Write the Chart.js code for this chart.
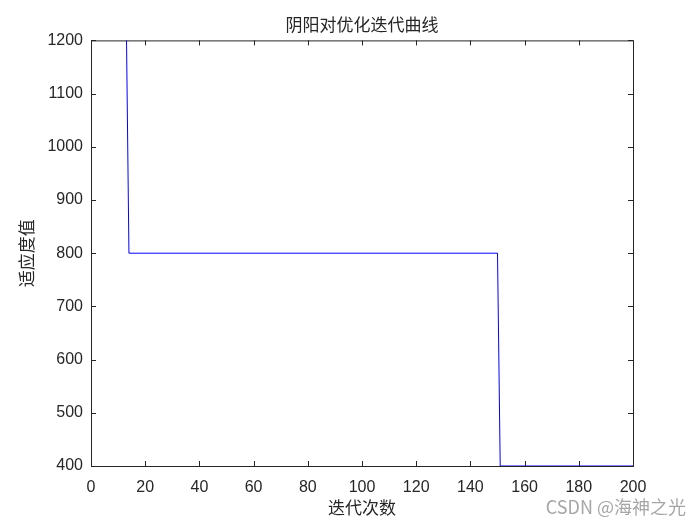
<!DOCTYPE html>
<html>
<head>
<meta charset="utf-8">
<script src="https://cdn.jsdelivr.net/npm/chart.js@4"></script>
<style>
  body { margin: 0; background: #fff; }
  #wrap { width: 700px; height: 525px; }
</style>
</head>
<body>
<div id="wrap"><canvas id="curve" width="700" height="525"></canvas></div>
<script>
// iteration number and best fitness at each change point
const iterations = [1, 13, 14, 150, 151, 200];
const fitness = [1250, 1250, 800, 800, 400, 400];

const xTicks = [0, 20, 40, 60, 80, 100, 120, 140, 160, 180, 200];
const yTicks = [400, 500, 600, 700, 800, 900, 1000, 1100, 1200];

const chartTitle = '阴阳对优化迭代曲线';
const xTitle = '迭代次数';
const yTitle = '适应度值';
const watermark = 'CSDN @海神之光';

const axisColor = '#262626';
const tickFont = { family: 'Liberation Sans, Arial, sans-serif', size: 16 };
const cjkFont = { family: '"Noto Sans CJK SC", sans-serif', size: 16 };

// matlab style box with inward tick marks on all four sides
const boxPlugin = {
    id: 'matlabBox',
    beforeDatasetsDraw(chart) {
        const { ctx, chartArea: a, scales } = chart;
        ctx.save();
        ctx.strokeStyle = axisColor;
        ctx.lineWidth = 1;
        ctx.strokeRect(a.left + 0.5, a.top + 0.5, a.right - a.left, a.bottom - a.top);
        ctx.beginPath();
        xTicks.forEach(v => {
            const px = Math.round(scales.x.getPixelForValue(v)) + 0.5;
            ctx.moveTo(px, a.bottom); ctx.lineTo(px, a.bottom - 5);
            ctx.moveTo(px, a.top); ctx.lineTo(px, a.top + 5);
        });
        yTicks.forEach(v => {
            const py = Math.round(scales.y.getPixelForValue(v)) + 0.5;
            ctx.moveTo(a.left, py); ctx.lineTo(a.left + 5, py);
            ctx.moveTo(a.right, py); ctx.lineTo(a.right - 5, py);
        });
        ctx.stroke();
        ctx.restore();
    },
    afterDraw(chart) {
        const ctx = chart.ctx;
        ctx.save();
        ctx.fillStyle = '#a6a6a6';
        ctx.font = '18px "Noto Sans CJK SC", sans-serif';
        ctx.textAlign = 'right';
        ctx.textBaseline = 'middle';
        ctx.fillText(watermark, 686, 507);
        ctx.restore();
    }
};

new Chart(document.getElementById('curve'), {
    type: 'line',
    data: {
        datasets: [{
            data: iterations.map((x, i) => ({ x: x, y: fitness[i] })),
            borderColor: '#0000ff',
            borderWidth: 1,
            pointRadius: 0,
            tension: 0,
            fill: false
        }]
    },
    options: {
        responsive: false,
        animation: false,
        devicePixelRatio: 1,
        layout: { padding: { left: 0, right: 67, top: 0, bottom: 0 } },
        plugins: {
            legend: { display: false },
            tooltip: { enabled: false },
            title: {
                display: true,
                text: chartTitle,
                fullSize: false,
                color: axisColor,
                font: { family: cjkFont.family, size: 17, weight: 'normal' },
                padding: { top: 14, bottom: 6 }
            }
        },
        scales: {
            x: {
                type: 'linear',
                min: 0,
                max: 200,
                afterBuildTicks: s => { s.ticks = xTicks.map(v => ({ value: v })); },
                grid: { display: false, drawTicks: false },
                border: { display: false },
                ticks: { color: axisColor, font: tickFont, maxRotation: 0, autoSkip: false, padding: 12 },
                title: { display: true, text: xTitle, color: axisColor, font: { family: cjkFont.family, size: 17 }, padding: { top: 2, bottom: 7 } },
                afterFit: s => { s.height = 59; }
            },
            y: {
                type: 'linear',
                min: 400,
                max: 1200,
                afterBuildTicks: s => { s.ticks = yTicks.map(v => ({ value: v })); },
                grid: { display: false, drawTicks: false },
                border: { display: false },
                ticks: { color: axisColor, font: tickFont, autoSkip: false, padding: 8, callback: v => String(v) },
                title: { display: true, text: yTitle, color: axisColor, font: { family: cjkFont.family, size: 17 }, padding: { top: 16, bottom: 0 } },
                afterFit: s => { s.width = 91; }
            }
        }
    },
    plugins: [boxPlugin]
});
</script>
</body>
</html>
